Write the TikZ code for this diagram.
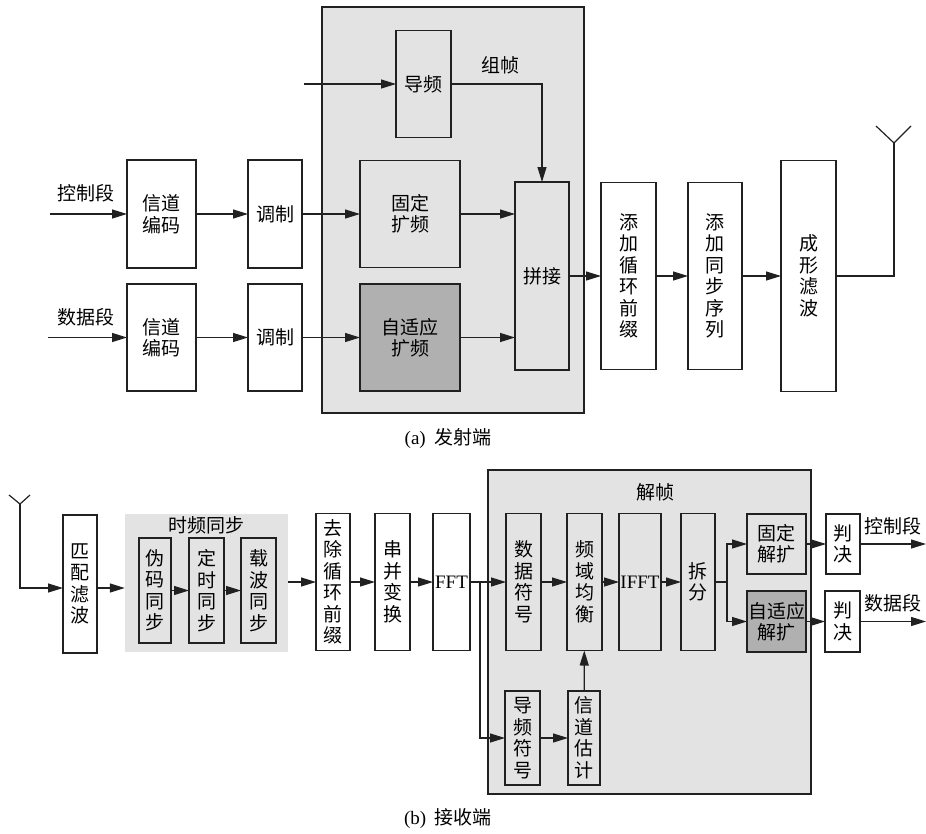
\documentclass[tikz,border=0pt]{standalone}
\usepackage{fontspec}
\setmainfont{Liberation Serif}
\newfontfamily\cjk{Noto Sans CJK SC}
\usetikzlibrary{arrows.meta, calc}

\definecolor{panelgray}{gray}{0.89}
\definecolor{darkgray}{gray}{0.69}
\definecolor{inkgray}{gray}{0.13}

\tikzset{
  blockbox/.style={draw=inkgray, line width=1.6pt, fill=white, inner sep=0pt, outer sep=0pt,
    align=center, font=\cjk\fontsize{19}{21.5}\selectfont},
  panelbox/.style={blockbox, fill=panelgray},
  darkbox/.style={blockbox, fill=darkgray},
  tag/.style={inner sep=0pt, font=\cjk\fontsize{19}{21.5}\selectfont},
  sigline/.style={draw=inkgray, line width=1.2pt, -{Triangle[length=15pt,width=9pt]}},
  wire/.style={draw=inkgray, line width=1.2pt}
}

\begin{document}
\begin{tikzpicture}[x=1pt,y=-1pt]
\useasboundingbox (0,0) rectangle (926,833);

% Gray panels behind the blocks
\node[panelbox, minimum width=262pt, minimum height=406pt] (txpanel) at (453,210) {};
\node[panelbox, minimum width=323pt, minimum height=324pt] (rxpanel) at (649.5,632) {};
\node[tag, fill=panelgray, draw=none, minimum width=163pt, minimum height=138pt] (syncpanel) at (206.5,583) {};

% Transmitter: the two input rows
\node[blockbox, minimum width=69pt, minimum height=108pt] (codeA) at (161.5,214) {信道\\编码};
\node[blockbox, minimum width=54pt, minimum height=108pt] (modA) at (275,214) {调制};
\node[panelbox, minimum width=100pt, minimum height=107pt] (spreadA) at (410,214) {固定\\扩频};
\node[blockbox, minimum width=69pt, minimum height=107pt] (codeB) at (161.5,337.5) {信道\\编码};
\node[blockbox, minimum width=54pt, minimum height=107pt] (modB) at (275,337.5) {调制};
\node[darkbox, minimum width=100pt, minimum height=107pt] (spreadB) at (410,337.5) {自适应\\扩频};

% Transmitter: pilot, framing and the chain to the antenna
\node[panelbox, minimum width=55pt, minimum height=107pt] (pilot) at (423.5,84) {导频};
\node[panelbox, minimum width=54pt, minimum height=188pt] (joint) at (542,276) {拼接};
\node[blockbox, minimum width=55pt, minimum height=187pt] (addcp) at (628.5,276) {添\\加\\循\\环\\前\\缀};
\node[blockbox, minimum width=54pt, minimum height=187pt] (addsync) at (715,276) {添\\加\\同\\步\\序\\列};
\node[blockbox, minimum width=55pt, minimum height=231pt] (shaper) at (808.5,276) {成\\形\\滤\\波};

% Transmitter labels
\node[tag] (ctrlin) at (86,193) {控制段};
\node[tag] (datain) at (86,317) {数据段};
\node[tag] (frame) at (500,65) {组帧};
\node[tag] (capA) at (448,438) {{\rmfamily (a)}\ \ 发射端};

% Free ends on the transmitter side
\coordinate (ctrlstart) at (50,214);
\coordinate (datastart) at (48,337.5);
\coordinate (pilotstart) at (304,84);
\coordinate (antA) at (894,143);

% Transmitter connectors
\draw[sigline] (ctrlstart) -- (codeA);
\draw[sigline] (codeA) -- (modA);
\draw[sigline] (modA) -- (spreadA);
\draw[sigline] (spreadA) -- (spreadA -| joint.west);
\draw[sigline] (datastart) -- (codeB);
\draw[sigline] (codeB) -- (modB);
\draw[sigline] (modB) -- (spreadB);
\draw[sigline] (spreadB) -- (spreadB -| joint.west);
\draw[sigline] (pilotstart) -- (pilot);
\draw[sigline] (pilot) -| (joint.north);
\draw[sigline] (joint) -- (addcp);
\draw[sigline] (addcp) -- (addsync);
\draw[sigline] (addsync) -- (shaper);

% Transmit antenna
\draw[wire] (shaper) -| (antA);
\draw[wire] ($(antA)+(-18,-17)$) -- (antA) -- ($(antA)+(17,-17)$);

% Receiver: filter and synchronisation
\node[blockbox, minimum width=34pt, minimum height=138pt] (match) at (80,584) {匹\\配\\滤\\波};
\node[tag] (synctag) at (206,525) {时频同步};
\node[panelbox, minimum width=32pt, minimum height=105pt] (prn) at (155,590.5) {伪\\码\\同\\步};
\node[panelbox, minimum width=35pt, minimum height=105pt] (timing) at (206.5,590.5) {定\\时\\同\\步};
\node[panelbox, minimum width=35pt, minimum height=105pt] (carrier) at (258.5,590.5) {载\\波\\同\\步};

% Receiver: the blocks ahead of the deframer
\node[blockbox, minimum width=34pt, minimum height=137pt] (delcp) at (333,582) {去\\除\\循\\环\\前\\缀};
\node[blockbox, minimum width=35pt, minimum height=137pt] (sp) at (392.5,582) {串\\并\\变\\换};
\node[blockbox, minimum width=37pt, minimum height=137pt, font=\fontsize{19}{21.5}\selectfont] (fft) at (451.5,582) {FFT};

% Receiver: the deframer
\node[tag] (deframe) at (655,492) {解帧};
\node[panelbox, minimum width=35pt, minimum height=137pt] (datasym) at (523.5,582) {数\\据\\符\\号};
\node[panelbox, minimum width=35pt, minimum height=137pt] (equal) at (584.5,582) {频\\域\\均\\衡};
\node[panelbox, minimum width=42pt, minimum height=137pt, font=\fontsize{19}{21.5}\selectfont] (ifft) at (640,582) {IFFT};
\node[panelbox, minimum width=34pt, minimum height=137pt] (split) at (698,582) {拆\\分};
\node[panelbox, minimum width=35pt, minimum height=94pt] (pilotsym) at (522.5,738) {导\\频\\符\\号};
\node[panelbox, minimum width=32pt, minimum height=94pt] (chest) at (584,738) {信\\道\\估\\计};
\node[panelbox, minimum width=59pt, minimum height=60pt] (despreadA) at (776.5,544) {固定\\解扩};
\node[darkbox, minimum width=59pt, minimum height=61pt] (despreadB) at (776.5,621.5) {自适应\\解扩};

% Receiver: decisions and labels
\node[blockbox, minimum width=34pt, minimum height=60pt] (decA) at (843,544) {判\\决};
\node[blockbox, minimum width=35pt, minimum height=61pt] (decB) at (842.5,621.5) {判\\决};
\node[tag] (ctrlout) at (893,526) {控制段};
\node[tag] (dataout) at (893,603) {数据段};
\node[tag] (capB) at (448,819) {{\rmfamily (b)}\ \ 接收端};

% Free ends on the receiver side
\coordinate (antB) at (20,504);
\coordinate (antfoot) at (20,588);
\coordinate (fftfork) at (480,582);
\coordinate (splitfork) at (727,582);
\coordinate (ctrlend) at (926,544);
\coordinate (dataend) at (926,621.5);

% Receiver connectors
\draw[wire] ($(antB)+(-11,-9)$) -- (antB) -- ($(antB)+(10,-9)$);
\draw[sigline] (antB) -- (antfoot) -- (antfoot -| match.west);
\draw[sigline] (antfoot -| match.east) -- (antfoot -| syncpanel.west);
\draw[sigline] (prn) -- (timing);
\draw[sigline] (timing) -- (carrier);
\draw[sigline] (delcp -| syncpanel.east) -- (delcp);
\draw[sigline] (delcp) -- (sp);
\draw[sigline] (sp) -- (fft);
\draw[sigline] (fft) -- (datasym);
\draw[sigline] (fftfork) |- (pilotsym);
\draw[sigline] (datasym) -- (equal);
\draw[sigline] (equal) -- (ifft);
\draw[sigline] (ifft) -- (split);
\draw[sigline] (pilotsym) -- (chest);
\draw[sigline] (chest) -- (equal);
\draw[wire] (split) -- (splitfork);
\draw[sigline] (splitfork) |- (despreadA);
\draw[sigline] (splitfork) |- (despreadB);
\draw[sigline] (despreadA) -- (decA);
\draw[sigline] (despreadB) -- (decB);
\draw[sigline] (decA) -- (ctrlend);
\draw[sigline] (decB) -- (dataend);

\end{tikzpicture}
\end{document}
